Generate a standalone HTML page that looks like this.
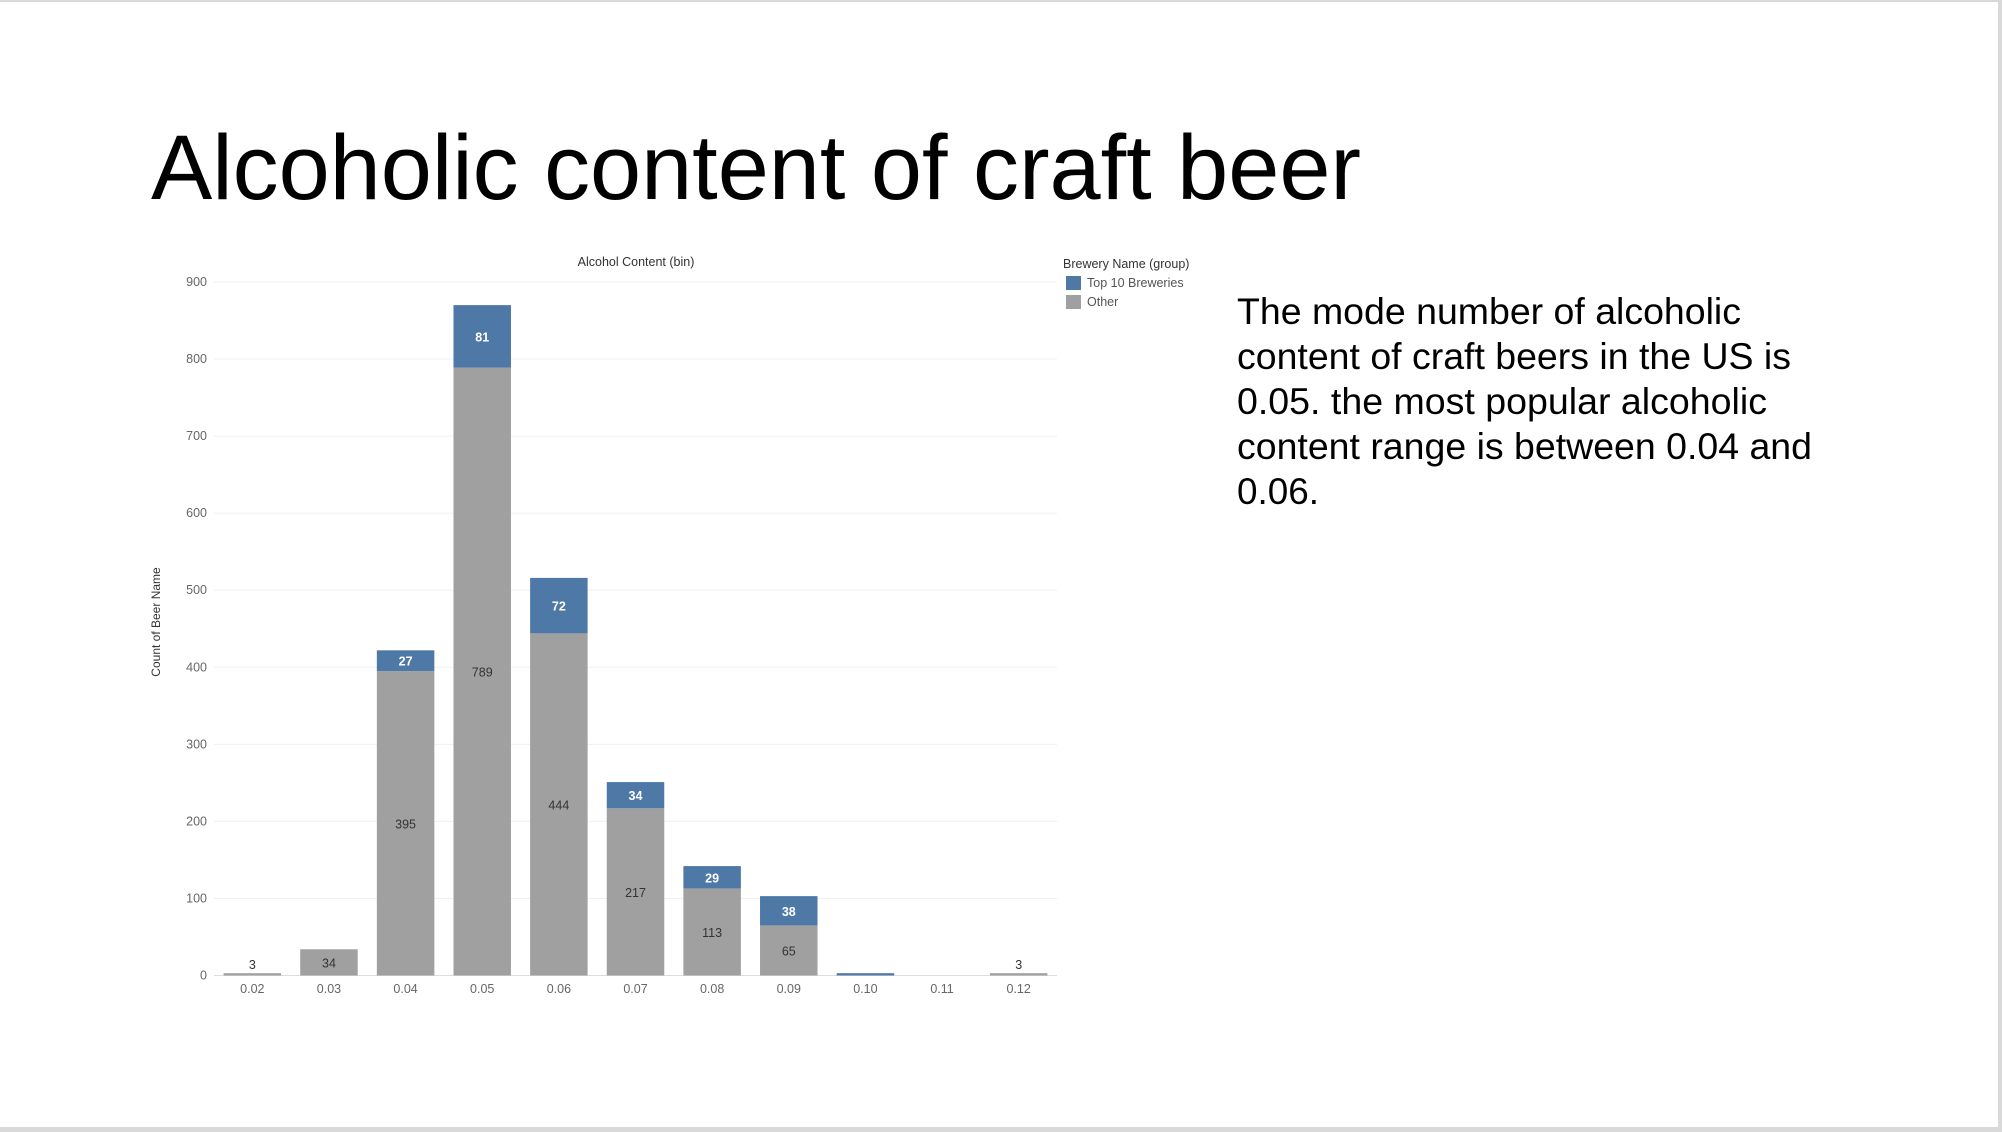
<!DOCTYPE html>
<html><head><meta charset="utf-8"><style>
html,body{margin:0;padding:0;background:#fff;}
svg{display:block;font-family:"Liberation Sans",sans-serif;}
</style></head><body>
<svg id="chart" width="2002" height="1132" viewBox="0 0 2002 1132" xmlns="http://www.w3.org/2000/svg">
<rect x="0" y="0" width="2002" height="1132" fill="#fff"/>
<rect x="0" y="0" width="2002" height="2" fill="#d9d9d9"/>
<rect x="1998" y="0" width="4" height="1132" fill="#d9d9d9"/>
<rect x="0" y="1127" width="2002" height="5" fill="#d9d9d9"/>
<text x="151" y="199" font-size="92" fill="#000" textLength="1210" lengthAdjust="spacingAndGlyphs">Alcoholic content of craft beer</text>
<g font-size="37" fill="#000">
<text x="1237" y="324" textLength="504" lengthAdjust="spacingAndGlyphs">The mode number of alcoholic</text>
<text x="1237" y="369" textLength="554" lengthAdjust="spacingAndGlyphs">content of craft beers in the US is</text>
<text x="1237" y="414" textLength="530" lengthAdjust="spacingAndGlyphs">0.05. the most popular alcoholic</text>
<text x="1237" y="459" textLength="575" lengthAdjust="spacingAndGlyphs">content range is between 0.04 and</text>
<text x="1237" y="504" textLength="82" lengthAdjust="spacingAndGlyphs">0.06.</text>
</g>
<text x="636" y="266" font-size="12.5" fill="#333" text-anchor="middle">Alcohol Content (bin)</text>
<text transform="translate(160,622) rotate(-90)" font-size="12" fill="#333" text-anchor="middle">Count of Beer Name</text>
<g>
<text x="1063" y="268" font-size="12.5" fill="#333">Brewery Name (group)</text>
<rect x="1066" y="276" width="15" height="14" fill="#4e79a7"/>
<text x="1087" y="287" font-size="12.5" fill="#555">Top 10 Breweries</text>
<rect x="1066" y="295" width="15" height="14" fill="#a0a0a0"/>
<text x="1087" y="306" font-size="12.5" fill="#555">Other</text>
</g>
<g id="grid"></g><g id="bars"></g><g id="labels"></g>
</svg>
<script>
const categories = ["0.02","0.03","0.04","0.05","0.06","0.07","0.08","0.09","0.10","0.11","0.12"];
const otherValues = [3,34,395,789,444,217,113,65,0,0,3];
const topValues = [0,0,27,81,72,34,29,38,3,0,0];
const yTicks = [0,100,200,300,400,500,600,700,800,900];
const NS="http://www.w3.org/2000/svg";
const X0=214,X1=1057,Y0=975.5,YMAX=900,YTOP=282;
const step=(X1-X0)/categories.length;
function xC(i){return X0+step*(i+0.5);}
function y(v){return Y0-(v/YMAX)*(Y0-YTOP);}
function mk(tag,attrs,parent){const e=document.createElementNS(NS,tag);for(const k in attrs)e.setAttribute(k,attrs[k]);parent.appendChild(e);return e;}
const grid=document.getElementById('grid'),bars=document.getElementById('bars'),labels=document.getElementById('labels');
yTicks.forEach(t=>{
 const l=mk('line',{x1:X0,x2:X1,y1:y(t),y2:y(t),stroke:t===0?'#ddd':'#f0f0f0','stroke-width':1},grid);
 
 
 const tx=mk('text',{x:207,y:y(t)+4,'font-size':12.5,fill:'#666','text-anchor':'end'},grid);
 tx.textContent=t;
 
 
});
const bw=57.5;
categories.forEach((c,i)=>{
 const cx=xC(i),o=otherValues[i],tp=topValues[i];
 const tl=mk('text',{x:cx,y:993,'font-size':12.5,fill:'#666','text-anchor':'middle'},labels);
 tl.textContent=c;
 
 
 if(o>0){
  const r=mk('rect',{x:cx-bw/2,y:y(o),width:bw,height:Math.max(Y0-y(o),2),fill:'#a0a0a0'},bars);
  
  
 }
 if(tp>0){
  const r=mk('rect',{x:cx-bw/2,y:y(o+tp),width:bw,height:Math.max(y(o)-y(o+tp),2),fill:'#4e79a7'},bars);
  
  
 }
 if(o>0){
  const h=Y0-y(o);
  const ly=h>20?(y(o)+Y0)/2+5:y(o)-4;
  const t=mk('text',{x:cx,y:ly,'font-size':12.5,fill:'#333','text-anchor':'middle'},labels);
  t.textContent=o;
  
  
 }
 if(tp>5){
  const t=mk('text',{x:cx,y:(y(o)+y(o+tp))/2+5,'font-size':12.5,fill:'#fff','font-weight':'bold','text-anchor':'middle'},labels);
  t.textContent=tp;
  
  
 }
});
</script>
</body></html>
